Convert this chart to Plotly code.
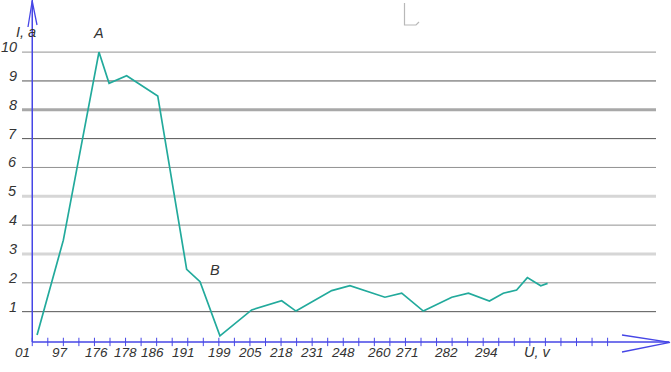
import plotly.graph_objects as go

# ---------------- data ----------------
# positions along the (non-uniform, hand-drawn) voltage axis, in axis tick units
u_pos = [0.31, 2.0, 4.29, 4.94, 6.07, 8.07, 9.93, 10.79, 12.07, 14.11, 16.04, 16.96,
         19.26, 20.43, 22.68, 23.76, 25.15, 26.98, 28.05, 29.4, 30.29, 31.15, 31.84,
         32.7, 33.14]
current = [0.19, 3.48, 10.0, 8.92, 9.18, 8.48, 2.47, 2.04, 0.16, 1.06, 1.38, 1.02,
           1.73, 1.90, 1.50, 1.64, 1.02, 1.50, 1.64, 1.37, 1.64, 1.75, 2.18, 1.90, 1.98]

x_tick_labels = ["01", "97", "176", "178", "186", "191", "199", "205", "218", "231",
                 "248", "260", "271", "282", "294"]
x_tick_pos = [-0.6, 1.8, 4.1, 6.0, 7.75, 9.75, 12.05, 14.0, 16.0, 18.0, 20.0, 22.3,
              24.1, 26.6, 29.2]
y_tick_vals = [1, 2, 3, 4, 5, 6, 7, 8, 9, 10]
y_tick_labels = ["1", "2", "3", "4", "5", "6", "7", "8", "9", "10"]
grid_colors = ["#555555", "#929292", "#d6d6d6", "#929292", "#d6d6d6",
               "#929292", "#555555", "#a8a8a8", "#555555", "#929292"]
grid_widths = [1, 1, 3, 1, 3, 1, 1, 3, 1, 1]
minor_ticks = list(range(0, 38))

# ---------------- layout calibration ----------------
W, H = 671, 372
X0_PX, X_UNIT = 32.25, 15.55
Y0_PX, Y_UNIT = 340.5, 28.84
x_range = [(0 - X0_PX) / X_UNIT, (W - X0_PX) / X_UNIT]
y_range = [(Y0_PX - H) / Y_UNIT, Y0_PX / Y_UNIT]
AXIS_Y = -0.05


def px(x):
    return x / W


def py(y):
    return 1 - y / H


BLUE = "#4646e6"
TEAL = "#22aa9c"
TXT = "#333333"
FAMILY = "Liberation Sans Narrow, Liberation Sans, Arial Narrow, sans-serif"
FONT = dict(family=FAMILY, size=14.5, color=TXT, style="italic")
XFONT = dict(family=FAMILY, size=13.5, color=TXT, style="italic")

fig = go.Figure()

# tick marks on x axis
fig.add_trace(go.Scatter(x=minor_ticks, y=[AXIS_Y] * len(minor_ticks), mode="markers",
                         marker=dict(symbol="line-ns", size=6,
                                     line=dict(width=1, color=BLUE)),
                         hoverinfo="skip", showlegend=False, cliponaxis=False))

# data line
fig.add_trace(go.Scatter(x=u_pos, y=current, mode="lines",
                         line=dict(color=TEAL, width=1.7),
                         showlegend=False, cliponaxis=False))

shapes = []
# gridlines
for v, c, w in zip(y_tick_vals, grid_colors, grid_widths):
    shapes.append(dict(type="line", xref="paper", yref="y", x0=px(22), x1=px(656),
                       y0=v, y1=v, line=dict(color=c, width=w), layer="below"))
# y axis + arrow
shapes.append(dict(type="line", xref="x", yref="y", x0=0, x1=0, y0=AXIS_Y,
                   y1=y_range[1], line=dict(color=BLUE, width=1.5)))
shapes.append(dict(type="path", xref="paper", yref="paper",
                   path=f"M {px(28)} {py(27)} L {px(32.2)} {py(1)} L {px(37)} {py(25)}",
                   line=dict(color=BLUE, width=1.3)))
# x axis + arrow
shapes.append(dict(type="line", xref="x", yref="y", x0=0, x1=(669 - X0_PX) / X_UNIT,
                   y0=AXIS_Y, y1=AXIS_Y, line=dict(color=BLUE, width=1.5)))
shapes.append(dict(type="path", xref="paper", yref="paper",
                   path=f"M {px(622)} {py(335)} L {px(670)} {py(342.3)} L {px(622)} {py(352)}",
                   line=dict(color=BLUE, width=1.3)))
# small scanning artifact near the top
shapes.append(dict(type="path", xref="paper", yref="paper",
                   path=f"M {px(404.5)} {py(3)} L {px(404.5)} {py(25)} L {px(416)} {py(25)} L {px(419)} {py(22)}",
                   line=dict(color="#b8b8b8", width=1.2)))

annotations = []
for v, t in zip(y_tick_vals, y_tick_labels):
    annotations.append(dict(x=(18.5 - X0_PX) / X_UNIT, y=v, xref="x", yref="y", text=t,
                            showarrow=False, xanchor="right", yanchor="middle",
                            yshift=5, font=FONT))
for p, t in zip(x_tick_pos, x_tick_labels):
    annotations.append(dict(x=p, y=(Y0_PX - 352) / Y_UNIT, xref="x", yref="y", text=t,
                            showarrow=False, xanchor="center", yanchor="middle",
                            font=XFONT))
annotations.append(dict(x=32.5, y=(Y0_PX - 352) / Y_UNIT, xref="x", yref="y",
                        text="U, v", showarrow=False, font=FONT))
annotations.append(dict(x=px(14), y=py(22), xref="paper", yref="paper", text="I, a",
                        showarrow=False, font=FONT))
annotations.append(dict(x=u_pos[2], y=current[2], xref="x", yref="y", text="A",
                        showarrow=False, yshift=19, font=FONT))
annotations.append(dict(x=11.75, y=2.44, xref="x", yref="y", text="B",
                        showarrow=False, font=FONT))

fig.update_layout(
    width=W, height=H,
    margin=dict(l=0, r=0, t=0, b=0),
    paper_bgcolor="white", plot_bgcolor="white",
    xaxis=dict(range=x_range, visible=False, fixedrange=True),
    yaxis=dict(range=y_range, visible=False, fixedrange=True),
    shapes=shapes, annotations=annotations,
    showlegend=False,
)

fig.write_html("out.html", config={"displayModeBar": False},
               post_script="document.body.style.margin='0px';document.body.style.overflow='hidden';")
